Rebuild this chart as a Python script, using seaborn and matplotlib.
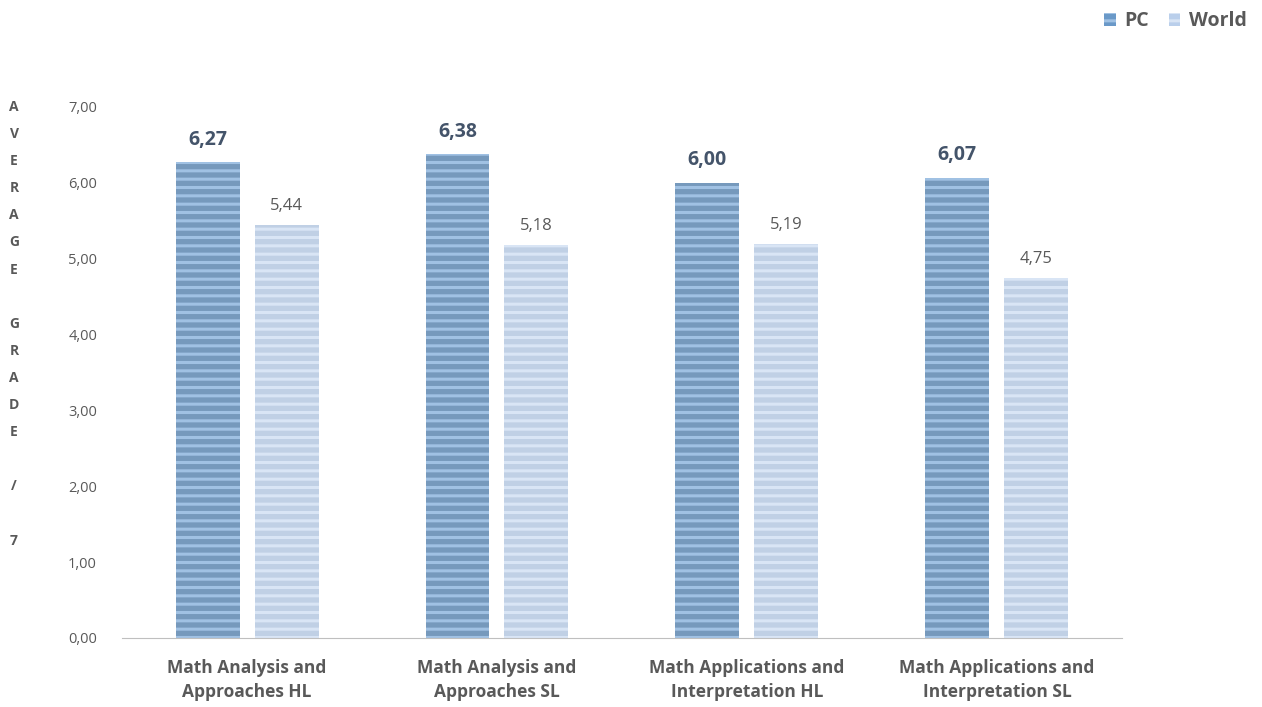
import numpy as np
import pandas as pd
import seaborn as sns
import matplotlib.pyplot as plt

subjects = ['Math Analysis and\nApproaches HL', 'Math Analysis and\nApproaches SL',
            'Math Applications and\nInterpretation HL', 'Math Applications and\nInterpretation SL']
pc_scores = [6.27, 6.38, 6.00, 6.07]
world_scores = [5.44, 5.18, 5.19, 4.75]
groups = ['PC', 'World']
y_ticks = [0, 1, 2, 3, 4, 5, 6, 7]
ylabel_text = 'AVERAGE GRADE / 7'

df = pd.DataFrame({
    'subject': subjects * 2,
    'score': pc_scores + world_scores,
    'group': ['PC'] * len(subjects) + ['World'] * len(subjects),
})

sns.set_style('white')
plt.rcParams['font.family'] = ['Open Sans', 'DejaVu Sans']
plt.rcParams['hatch.linewidth'] = 2.2

fill = {'PC': '#6a99c8', 'World': '#bacfeb'}
stripe = {'PC': '#a0c1e3', 'World': '#d9e5f5'}

fig = plt.figure(figsize=(12.62, 7.07), dpi=100)
ax = fig.add_axes([0.0967, 0.0976, 0.7923, 0.7511])

sns.barplot(data=df, x='subject', y='score', hue='group', palette=fill,
            width=0.632, gap=0.19, legend=False, ax=ax, linewidth=0)

for bars, g in zip(ax.containers, groups):
    for b in bars:
        b.set_hatch('--')
        b.set_edgecolor(stripe[g])
        b.set_linewidth(0)
    if g == 'PC':
        ax.bar_label(bars, labels=[f'{v:.2f}'.replace('.', ',') for v in pc_scores],
                     padding=9, fontsize=14, fontweight='bold', color='#44546a')
    else:
        ax.bar_label(bars, labels=[f'{v:.2f}'.replace('.', ',') for v in world_scores],
                     padding=8, fontsize=12, color='#595959')

ax.set_ylim(0, 7)
ax.set_xlim(-0.5, 3.5)
ax.set_yticks(y_ticks)
ax.set_yticklabels([f'{t:.2f}'.replace('.', ',') for t in y_ticks], fontsize=10.5, color='#595959')
ax.tick_params(axis='both', length=0)
ax.tick_params(axis='y', pad=18)
ax.tick_params(axis='x', pad=15)
for lab in ax.get_xticklabels():
    lab.set_fontweight('bold')
    lab.set_fontsize(12.5)
    lab.set_color('#595959')
    lab.set_linespacing(1.45)
ax.set_xlabel('')
ax.set_ylabel('')
for s in ['top', 'right', 'left']:
    ax.spines[s].set_visible(False)
ax.spines['bottom'].set_color('#bfbfbf')

# stacked vertical axis title
y0 = 1 - 107 / 707
step = 27.1 / 707
for i, ch in enumerate(ylabel_text):
    if ch != ' ':
        fig.text(14 / 1262, y0 - i * step, ch, ha='center', va='center',
                 fontsize=10, fontweight='bold', color='#595959')

# legend
handles = [plt.Rectangle((0, 0), 1, 1, facecolor=fill[g], edgecolor=stripe[g],
                         hatch='--', linewidth=0) for g in groups]
fig.legend(handles, groups, loc='center right', bbox_to_anchor=(1.002, 0.97),
           ncol=2, frameon=False, handlelength=0.6, handleheight=0.6,
           handletextpad=0.45, columnspacing=1.0,
           prop={'weight': 'bold', 'size': 14}, labelcolor='#595959')

fig.savefig('out.png', dpi=100)
